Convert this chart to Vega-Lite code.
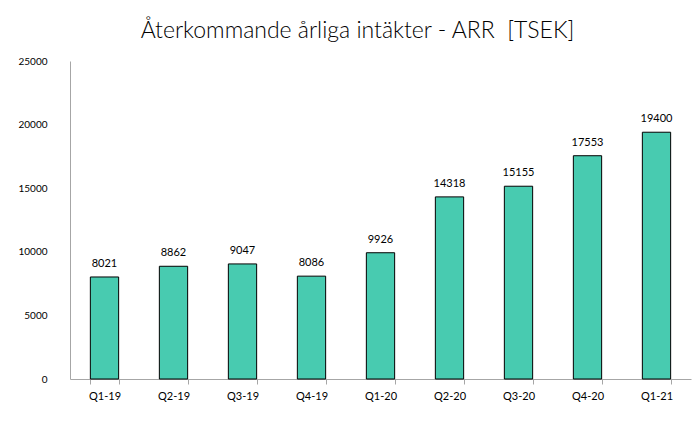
{
  "$schema": "https://vega.github.io/schema/vega-lite/v6.json",
  "width": 621,
  "height": 318,
  "autosize": {"type": "none"},
  "padding": {"left": 70, "top": 61, "right": 3, "bottom": 58},
  "background": "white",
  "config": {"view": {"stroke": null}, "font": "Lato"},
  "title": {
    "text": "Återkommande årliga intäkter - ARR\u00a0 [TSEK]",
    "fontSize": 23,
    "fontWeight": 300,
    "font": "Lato",
    "color": "#000000",
    "anchor": "middle",
    "dx": -23,
    "offset": 13
  },
  "data": {
    "values": [
      {"q": "Q1-19", "v": 8021},
      {"q": "Q2-19", "v": 8862},
      {"q": "Q3-19", "v": 9047},
      {"q": "Q4-19", "v": 8086},
      {"q": "Q1-20", "v": 9926},
      {"q": "Q2-20", "v": 14318},
      {"q": "Q3-20", "v": 15155},
      {"q": "Q4-20", "v": 17553},
      {"q": "Q1-21", "v": 19400}
    ]
  },
  "encoding": {
    "x": {
      "field": "q",
      "type": "nominal",
      "sort": null,
      "scale": {"paddingInner": 0.59, "paddingOuter": 0.295},
      "axis": {
        "title": null,
        "labelAngle": 0,
        "labelFontSize": 11,
        "labelColor": "#000000",
        "labelPadding": 6,
        "domainColor": "#A6A6A6",
        "tickColor": "#A6A6A6",
        "tickBand": "extent",
        "tickSize": 5
      }
    },
    "y": {
      "field": "v",
      "type": "quantitative",
      "scale": {"domain": [0, 25000]},
      "axis": {
        "title": null,
        "values": [0, 5000, 10000, 15000, 20000, 25000],
        "grid": false,
        "ticks": false,
        "labelPadding": 23,
        "labelFontSize": 10,
        "labelColor": "#000000",
        "domainColor": "#A6A6A6",
        "format": "d"
      }
    }
  },
  "layer": [
    {
      "mark": {"type": "bar", "color": "#48CBB0", "stroke": "#000000", "strokeWidth": 1}
    },
    {
      "mark": {"type": "text", "baseline": "bottom", "dy": -8, "fontSize": 11, "color": "#000000"},
      "encoding": {"text": {"field": "v", "type": "quantitative", "format": "d"}}
    }
  ]
}
